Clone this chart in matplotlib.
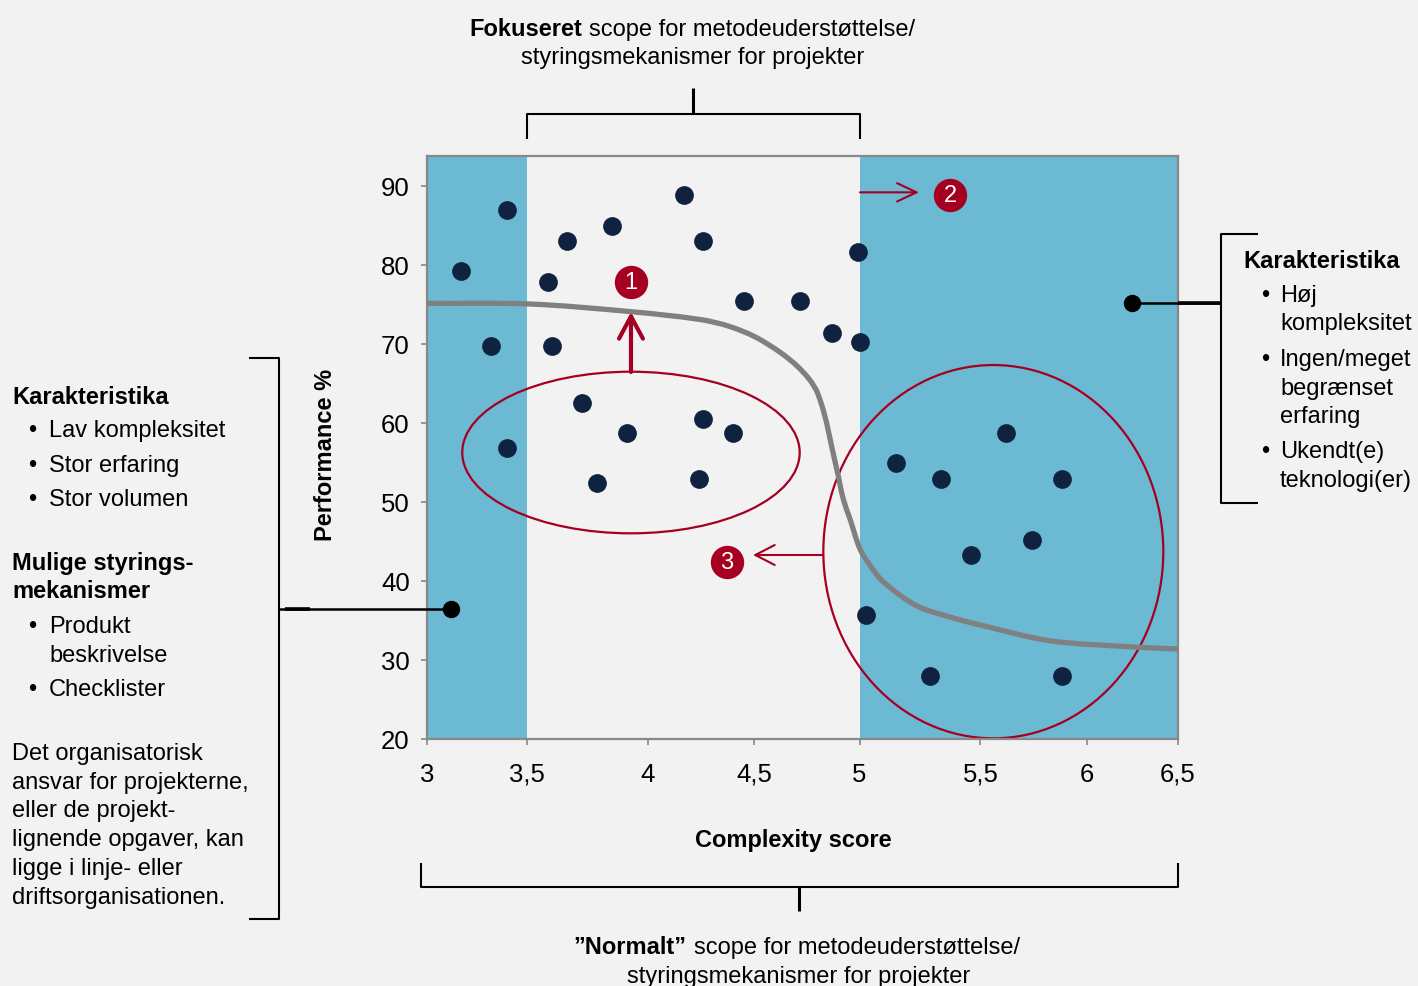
import numpy as np
import matplotlib.pyplot as plt
from matplotlib.patches import Ellipse, PathPatch
from matplotlib.path import Path
from matplotlib.lines import Line2D

plt.rcParams['font.family'] = ['Liberation Sans', 'DejaVu Sans']

# projects: complexity score vs performance %
complexity = [3.17, 3.40, 3.32, 3.40, 3.585, 3.664, 3.602, 3.851, 3.729, 3.789,
              3.914, 4.170, 4.259, 4.259, 4.242, 4.401, 4.454, 4.718, 4.871, 4.994,
              5.0, 5.150, 5.338, 5.618, 5.884, 5.462, 5.740, 5.026, 5.290, 5.884]
performance = [79.2, 86.9, 69.7, 56.8, 77.8, 83.1, 69.7, 85.0, 62.5, 52.4,
               58.7, 88.8, 83.1, 60.5, 52.9, 58.7, 75.4, 75.4, 71.4, 81.6,
               70.2, 54.9, 52.9, 58.7, 52.9, 43.3, 45.2, 35.7, 28.0, 28.0]

# trend curve
curve_x = [3.0, 3.512, 3.930, 4.245, 4.387, 4.533, 4.704, 4.803, 4.892,
           4.923, 4.955, 5.002, 5.043, 5.098, 5.236, 5.374, 5.512, 5.826, 6.253, 6.5]
curve_y = [75.15, 75.06, 74.09, 73.1, 72.2, 70.5, 67.22, 63.67, 54.18,
           50.38, 47.85, 44.05, 42.0, 39.9, 36.87, 35.44, 34.34, 32.44, 31.65, 31.4]

x_ticks = [3, 3.5, 4, 4.5, 5, 5.5, 6, 6.5]
x_tick_labels = ['3', '3,5', '4', '4,5', '5', '5,5', '6', '6,5']
y_ticks = [20, 30, 40, 50, 60, 70, 80, 90]
focus_range = (3.5, 5.0)

# the original axis is hand drawn: ticks are not evenly spaced
tick_frac = [0, 0.1332, 0.2943, 0.4354, 0.5759, 0.7370, 0.8788, 1.0]


def fwd(v):
    return np.interp(v, x_ticks, tick_frac)


def inv(f):
    return np.interp(f, tick_frac, x_ticks)


W, H = 1418, 987
BG = '#f2f2f2'
BLUE = '#6cb9d3'
NAVY = '#0f2340'
RED = '#a50021'
GREY = '#888888'
YMAX = 20 + 583 / 7.9

fig = plt.figure(figsize=(W / 100, H / 100), dpi=100, facecolor=BG)
ax = fig.add_axes([427 / W, 1 - 740 / H, 751 / W, 583 / H], facecolor=BG)
ax.set_xscale('function', functions=(fwd, inv))
ax.set_xlim(3, 6.5)
ax.set_ylim(20, YMAX)

ax.axvspan(x_ticks[0], focus_range[0], color=BLUE, lw=0, zorder=0)
ax.axvspan(focus_range[1], x_ticks[-1], color=BLUE, lw=0, zorder=0)

ax.set_xticks(x_ticks)
ax.set_xticklabels(x_tick_labels)
ax.set_yticks(y_ticks)
ax.tick_params(direction='out', length=4.5, width=1.2, color=GREY, labelsize=18.5)
ax.tick_params(axis='x', pad=12)
ax.tick_params(axis='y', pad=8)
for s in ax.spines.values():
    s.set_color(GREY)
    s.set_linewidth(1.6)

# ellipses around groups
ax.add_patch(Ellipse((0.2716, 0.4914), 0.4493, 0.2772, transform=ax.transAxes,
                     fill=False, ec=RED, lw=1.6, zorder=2, clip_on=False))
ax.add_patch(Ellipse((0.7541, 0.3213), 0.4527, 0.6403, transform=ax.transAxes,
                     fill=False, ec=RED, lw=1.6, zorder=2, clip_on=False))

# smooth trend curve: chordal catmull-rom through the read points (axes space)
pts = np.column_stack([fwd(np.array(curve_x)), (np.array(curve_y) - 20) / (YMAX - 20)])
size = np.array([751.0, 583.0])
t = np.concatenate([[0], np.cumsum(np.hypot(*(np.diff(pts, axis=0) * size).T))])
m = np.zeros_like(pts)
m[1:-1] = (pts[2:] - pts[:-2]) / (t[2:] - t[:-2])[:, None]
m[0] = (pts[1] - pts[0]) / (t[1] - t[0])
m[-1] = (pts[-1] - pts[-2]) / (t[-1] - t[-2])
verts = [pts[0]]
codes = [Path.MOVETO]
for i in range(len(pts) - 1):
    dt = t[i + 1] - t[i]
    verts += [pts[i] + m[i] * dt / 3, pts[i + 1] - m[i + 1] * dt / 3, pts[i + 1]]
    codes += [Path.CURVE4] * 3
ax.add_patch(PathPatch(Path(verts, codes), fill=False, ec='#808080', lw=3.8,
                       transform=ax.transAxes, zorder=3, capstyle='butt'))

ax.scatter(complexity, performance, s=13.5 ** 2, color=NAVY, lw=0, zorder=5)

# numbered arrows
arrows = [((0.2716, 0.6295), (0.2716, 0.7324), 3.0, 0.8, 0.43),
          ((0.5766, 0.9377), (0.6551, 0.9377), 1.5, 0.7, 0.33),
          ((0.5273, 0.3156), (0.4341, 0.3156), 1.5, 0.7, 0.36)]
for start, end, lw, hl, hw in arrows:
    ax.annotate('', xy=end, xytext=start, xycoords='axes fraction',
                arrowprops=dict(arrowstyle=f'->,head_length={hl},head_width={hw}',
                                color=RED, lw=lw, shrinkA=0, shrinkB=0,
                                mutation_scale=20),
                annotation_clip=False, zorder=6)

badges = [(0.2716, 0.7844, '1'), (0.6964, 0.9336, '2'), (0.3995, 0.3041, '3')]
for bx, by, num in badges:
    ax.plot(bx, by, 'o', ms=23, color=RED, transform=ax.transAxes, zorder=7, clip_on=False)
    ax.text(bx, by, num, color='white', fontsize=17, ha='center', va='center',
            transform=ax.transAxes, zorder=8)


def px_line(xs, ys, lw=1.5, **kw):
    fig.add_artist(Line2D([x / W for x in xs], [1 - y / H for y in ys],
                          color='black', lw=lw, solid_capstyle='butt', **kw))


def px_text(x, y, s, size=17, **kw):
    fig.text(x / W, 1 - (y + 2) / H, s, fontsize=size, va='center', **kw)


# brackets and connectors
px_line([527, 527, 859.5, 859.5], [140, 115, 115, 140])
px_line([693, 693], [89, 115], lw=2.2)
px_line([421, 421, 1178, 1178], [864, 888, 888, 864])
px_line([799, 799], [888, 912], lw=2.2)
px_line([249, 279, 279, 249], [359, 359, 920, 920])
px_line([279, 451], [610, 610], lw=1.8)
px_line([285, 310], [610, 610], lw=2.6)
px_line([451], [610], marker='o', ms=11.5, mfc='black', mec='black')
px_line([1258, 1221, 1221, 1258], [235, 235, 504, 504])
px_line([1132, 1221], [303.5, 303.5], lw=1.8)
px_line([1178, 1221], [303.5, 303.5], lw=2.6)
px_line([1132], [304], marker='o', ms=11.5, mfc='black', mec='black')

# top and bottom captions
px_text(582, 28, 'Fokuseret', ha='right', fontweight='bold')
px_text(589, 28, 'scope for metodeuderstøttelse/', ha='left')
px_text(693, 56, 'styringsmekanismer for projekter', ha='center')
px_text(686, 946, '\u201dNormalt\u201d', ha='right', fontweight='bold')
px_text(694, 946, 'scope for metodeuderstøttelse/', ha='left')
px_text(799, 975, 'styringsmekanismer for projekter', ha='center')

px_text(793, 839, 'Complexity score', ha='center', fontweight='bold')
px_text(325, 453, 'Performance %', ha='center', fontweight='bold', rotation=90)

# left side notes
px_text(12, 395, 'Karakteristika', fontweight='bold')
for y, s, bullet in [(429, 'Lav kompleksitet', True), (464, 'Stor erfaring', True),
                     (498, 'Stor volumen', True), (625, 'Produkt', True),
                     (654, 'beskrivelse', False), (688, 'Checklister', True)]:
    if bullet:
        px_text(32, y, '\u2022', ha='center')
    px_text(49, y, s)
px_text(12, 562, 'Mulige styrings-', fontweight='bold')
px_text(12, 590, 'mekanismer', fontweight='bold')
for y, s in [(752, 'Det organisatorisk'), (781, 'ansvar for projekterne,'),
             (809, 'eller de projekt-'), (838, 'lignende opgaver, kan'),
             (867, 'ligge i linje- eller'), (896, 'driftsorganisationen.')]:
    px_text(12, y, s)

# right side notes
px_text(1243, 260, 'Karakteristika', fontweight='bold')
for y, s, bullet in [(294, 'Høj', True), (322, 'kompleksitet', False),
                     (358, 'Ingen/meget', True), (387, 'begrænset', False),
                     (415, 'erfaring', False), (450, 'Ukendt(e)', True),
                     (479, 'teknologi(er)', False)]:
    if bullet:
        px_text(1265, y, '\u2022', ha='center')
    px_text(1280, y, s)

fig.savefig('out.png', dpi=100, facecolor=BG)
